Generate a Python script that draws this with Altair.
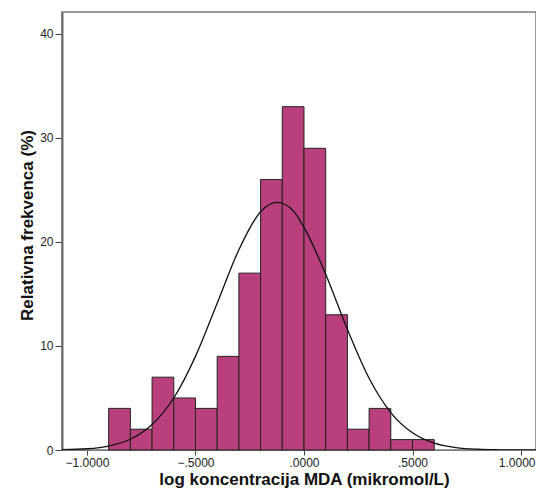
import altair as alt
import pandas as pd

# Histogram bins (log MDA), bin width 0.1
bin_start = [-0.9, -0.8, -0.7, -0.6, -0.5, -0.4, -0.3, -0.2, -0.1, 0.0, 0.1, 0.2, 0.3, 0.4, 0.5]
bin_end = [-0.8, -0.7, -0.6, -0.5, -0.4, -0.3, -0.2, -0.1, 0.0, 0.1, 0.2, 0.3, 0.4, 0.5, 0.6]
freq = [4, 2, 7, 5, 4, 9, 17, 26, 33, 29, 13, 2, 4, 1, 1]

# Normal curve points
curve_x = [-1.115, -1.0, -0.9, -0.8, -0.7, -0.6, -0.5, -0.4, -0.3, -0.2, -0.124, -0.05, 0.0, 0.1, 0.2, 0.3, 0.4, 0.5, 0.6, 0.7, 0.8, 0.9, 1.0, 1.07]
curve_y = [0.03, 0.12, 0.38, 1.03, 2.45, 5.0, 9.0, 14.1, 19.25, 22.9, 23.8, 23.0, 21.4, 16.9, 11.6, 6.9, 3.6, 1.65, 0.65, 0.23, 0.07, 0.02, 0.005, 0.0]

x_ticks = [-1.0, -0.5, 0.0, 0.5, 1.0]
y_ticks = [0, 10, 20, 30, 40]

bars = pd.DataFrame({"start": bin_start, "end": bin_end, "freq": freq})
curve = pd.DataFrame({"x": curve_x, "y": curve_y})

xscale = alt.Scale(domain=[-1.115, 1.069], nice=False, zero=False)
yscale = alt.Scale(domain=[0, 42.1], nice=False)

xaxis = alt.Axis(
    values=x_ticks,
    labelExpr="replace(format(datum.value, '.4f'), '0.', '.')",
    labelAlign={"condition": {"test": "datum.value >= 1", "value": "right"}, "value": "center"},
    labelOffset={"condition": {"test": "datum.value >= 1", "value": 14}, "value": 0},
    labelFlush=False,
    grid=False,
    tickSize=5,
    labelPadding=2,
    title="log koncentracija MDA (mikromol/L)",
    titlePadding=3,
    titleX=242,
)
yaxis = alt.Axis(
    values=y_ticks,
    grid=False,
    tickSize=7,
    labelPadding=2,
    title="Relativna frekvenca (%)",
    titlePadding=3,
    titleY=213,
    domainWidth=2,
    domainColor="#6b6b6b",
)

bar_layer = alt.Chart(bars).mark_bar(
    color="#BA3F7D", stroke="#222222", strokeWidth=1
).encode(
    x=alt.X("start:Q", scale=xscale, axis=xaxis),
    x2="end:Q",
    y=alt.Y("freq:Q", scale=yscale, axis=yaxis),
    y2=alt.datum(0),
)

line_layer = alt.Chart(curve).mark_line(
    color="#111111", strokeWidth=1.3, interpolate="monotone", clip=True
).encode(
    x=alt.X("x:Q", scale=xscale),
    y=alt.Y("y:Q", scale=yscale),
)

chart = alt.layer(bar_layer, line_layer).properties(
    width=474,
    height=438,
    autosize=alt.AutoSizeParams(type="none"),
    padding={"left": 54, "top": 4, "right": 0, "bottom": 39},
    background="white",
).configure_view(
    stroke="#7a7a7a", strokeWidth=1.5
).configure_axis(
    labelFont="Liberation Sans",
    labelFontSize=12,
    labelColor="#222222",
    titleFont="Liberation Sans",
    titleFontSize=17,
    titleFontWeight="bold",
    titleColor="#111111",
    tickColor="#444444",
    domainColor="#7a7a7a",
)

chart.save("out.html", embed_options={"renderer": "svg", "actions": False})
